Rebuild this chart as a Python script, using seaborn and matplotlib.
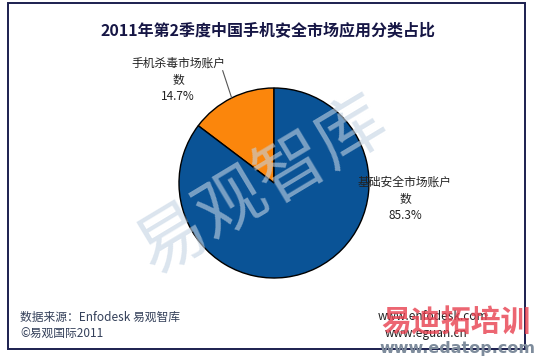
import matplotlib
matplotlib.use("Agg")
import matplotlib.pyplot as plt
import seaborn as sns
import numpy as np
from matplotlib.patches import Rectangle
from matplotlib.lines import Line2D

sns.set_theme(style="white")
plt.rcParams['font.family'] = ['Noto Sans CJK SC', 'DejaVu Sans']

# Data
categories = ["手机杀毒市场账户\n数", "基础安全市场账户\n数"]
shares = [14.7, 85.3]
colors = ["#fb860c", "#0a5396"]
title = "2011年第2季度中国手机安全市场应用分类占比"

W, H = 534, 359
fig = plt.figure(figsize=(W / 100, H / 100), dpi=100)
fig.patch.set_facecolor("white")

def px(x, y):
    return x / W, 1 - y / H

# Pie axes: centre (274, 183), radius 95 px
cx, cy, r = 274, 183, 95
ax = fig.add_axes([(cx - r) / W, (H - cy - r) / H, 2 * r / W, 2 * r / H])
wedges, _ = ax.pie(shares, colors=colors, startangle=90, counterclock=True,
                   wedgeprops=dict(edgecolor="black", linewidth=1.0))
ax.set_xlim(-1, 1)
ax.set_ylim(-1, 1)
ax.set_aspect("equal")
ax.axis("off")

# Leader line for the small slice, pointing at its mid-angle
mid = np.deg2rad(90 + shares[0] / sum(shares) * 360 / 2)
ax.add_line(Line2D([1.0 * np.cos(mid), 1.28 * np.cos(mid) + 0.03],
                   [1.0 * np.sin(mid), 1.30 * np.sin(mid) + 0.02],
                   color="#555555", lw=0.8, clip_on=False))

label_kw = dict(ha="center", va="center", fontsize=8.5, color="#222222", linespacing=1.35)
fig.text(*px(178, 80), f"{categories[0]}\n{shares[0]:.1f}%", **label_kw)
fig.text(*px(405, 199), f"{categories[1]}\n{shares[1]:.1f}%", **label_kw)

# Title
fig.text(*px(268, 30), title, ha="center", va="center", fontsize=11.5,
         fontweight="bold", color="#161645")

# Diagonal watermark
fig.text(*px(262, 186), "易观智库", ha="center", va="center", fontsize=50,
         rotation=31, color="#c3d3e3", alpha=0.6, fontweight="medium")

# Footer
fig.text(*px(20, 317), "数据来源：Enfodesk 易观智库", ha="left", va="center",
         fontsize=8.5, color="#34405a")
fig.text(*px(20, 334), "©易观国际2011", ha="left", va="center",
         fontsize=8.5, color="#34405a")
fig.text(*px(433, 316), "www.enfodesk.com", ha="center", va="center",
         fontsize=8.5, color="#222222")
fig.text(*px(426, 333), "www.eguan.cn", ha="center", va="center",
         fontsize=8.5, color="#222222")

# Frame
fig.add_artist(Rectangle(px(8, 349), (525 - 8) / W, (349 - 3) / H,
                         transform=fig.transFigure, fill=False,
                         edgecolor="#1b1f4f", lw=1.4))

# Site stamp, lower right
fig.text(*px(456, 322), "易迪拓培训", ha="center", va="center", fontsize=21.5,
         fontweight="heavy", color="#e8404f", alpha=0.8)
fig.text(*px(457, 349), "www.edatop.com", ha="center", va="center", fontsize=11.5,
         fontweight="bold", color="#7e8c9c", family=["DejaVu Sans"])

fig.savefig("out.png", dpi=100)
